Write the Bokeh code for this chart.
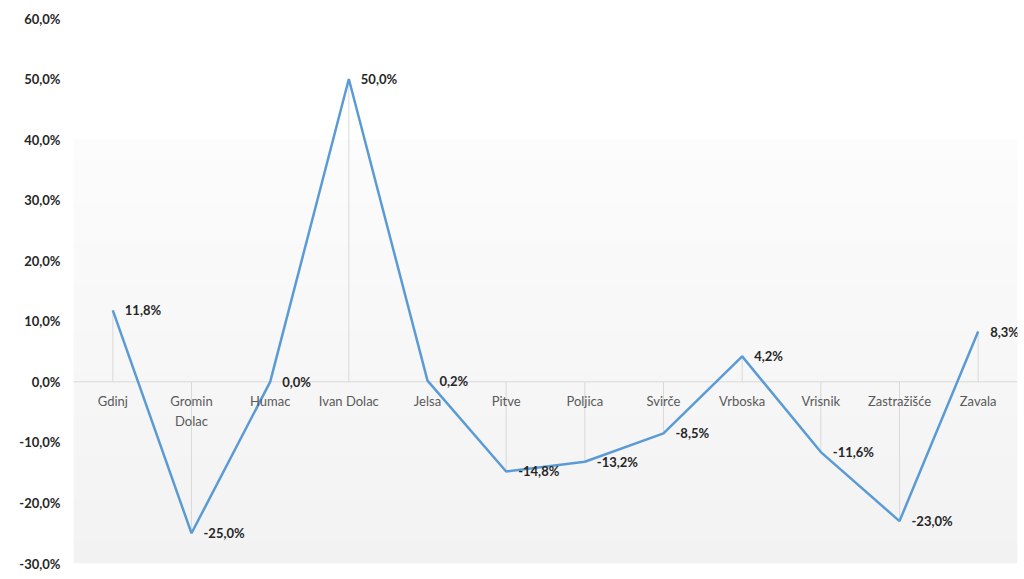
import numpy as np
from bokeh.plotting import figure
from bokeh.models import (ColumnDataSource, Range1d, FixedTicker, CustomJSTickFormatter,
                          LabelSet)
from bokeh.core.properties import value
from bokeh.embed import file_html
from bokeh.resources import INLINE

categories = ["Gdinj", "Gromin\nDolac", "Humac", "Ivan Dolac", "Jelsa", "Pitve", "Poljica",
              "Svirče", "Vrboska", "Vrisnik", "Zastražišće", "Zavala"]
values = [11.8, -25.0, 0.0, 50.0, 0.2, -14.8, -13.2, -8.5, 4.2, -11.6, -23.0, 8.3]
y_ticks = [-30, -20, -10, 0, 10, 20, 30, 40, 50, 60]

FONT = "Lato"
n = len(categories)
xs = [i + 0.5 for i in range(n)]
labels = [f"{v:.1f}".replace(".", ",") + "%" for v in values]

src = ColumnDataSource(dict(x=xs, y=values, cat=categories, lab=labels,
                            zero=[0.0] * n))

p = figure(width=1024, height=571, output_backend="svg", toolbar_location=None,
           x_range=Range1d(0, n), y_range=Range1d(-30, 60),
           min_border_left=73, min_border_right=7, min_border_top=18, min_border_bottom=8)
p.outline_line_color = None
p.xgrid.visible = False
p.ygrid.visible = False
p.xaxis.visible = False
p.background_fill_color = "white"
p.border_fill_color = "white"

# gradient background (white at top -> light gray at bottom)
rows = 200
img = np.zeros((rows, 1), dtype=np.uint32)
view = img.view(dtype=np.uint8).reshape((rows, 1, 4))
for r in range(rows):
    t = r / (rows - 1)  # 0 at bottom (-30), 1 at top (40)
    c = int(round(242 + (252 - 242) * t))
    view[r, 0, :] = [c, c, c, 255]
p.image_rgba(image=[img], x=0, y=-30, dw=n, dh=70, level="image")

# zero line
p.segment(x0=[0], y0=[0], x1=[n], y1=[0], line_color="#d9d9d9", line_width=1)

# drop lines
p.segment(x0="x", y0="zero", x1="x", y1="y", source=src, line_color="#d9d9d9", line_width=1)

# series line
p.line("x", "y", source=src, line_color="#5b9bd5", line_width=2.5)

# category labels
p.text(x="x", y="zero", text="cat", source=src, text_align="center", text_baseline="top",
       y_offset=11, text_font=value(FONT), text_font_size="13px", text_color="#595959",
       text_line_height=1.25)

# data labels
ls = LabelSet(x="x", y="y", text="lab", source=src, x_offset=12, text_align="left",
              text_baseline="middle", text_font=value(FONT), text_font_size="13px",
              text_font_style="bold", text_color="#262626")
p.add_layout(ls)

# y axis
ax = p.yaxis[0]
ax.ticker = FixedTicker(ticks=y_ticks)
ax.formatter = CustomJSTickFormatter(code="return tick.toFixed(1).replace('.', ',') + '%';")
ax.axis_line_color = None
ax.major_tick_line_color = None
ax.minor_tick_line_color = None
ax.major_tick_out = 0
ax.major_tick_in = 0
ax.major_label_standoff = 13
ax.major_label_text_font = FONT
ax.major_label_text_font_size = "13px"
ax.major_label_text_font_style = "bold"
ax.major_label_text_color = "#262626"

open("out.html", "w").write(file_html(p, INLINE))
